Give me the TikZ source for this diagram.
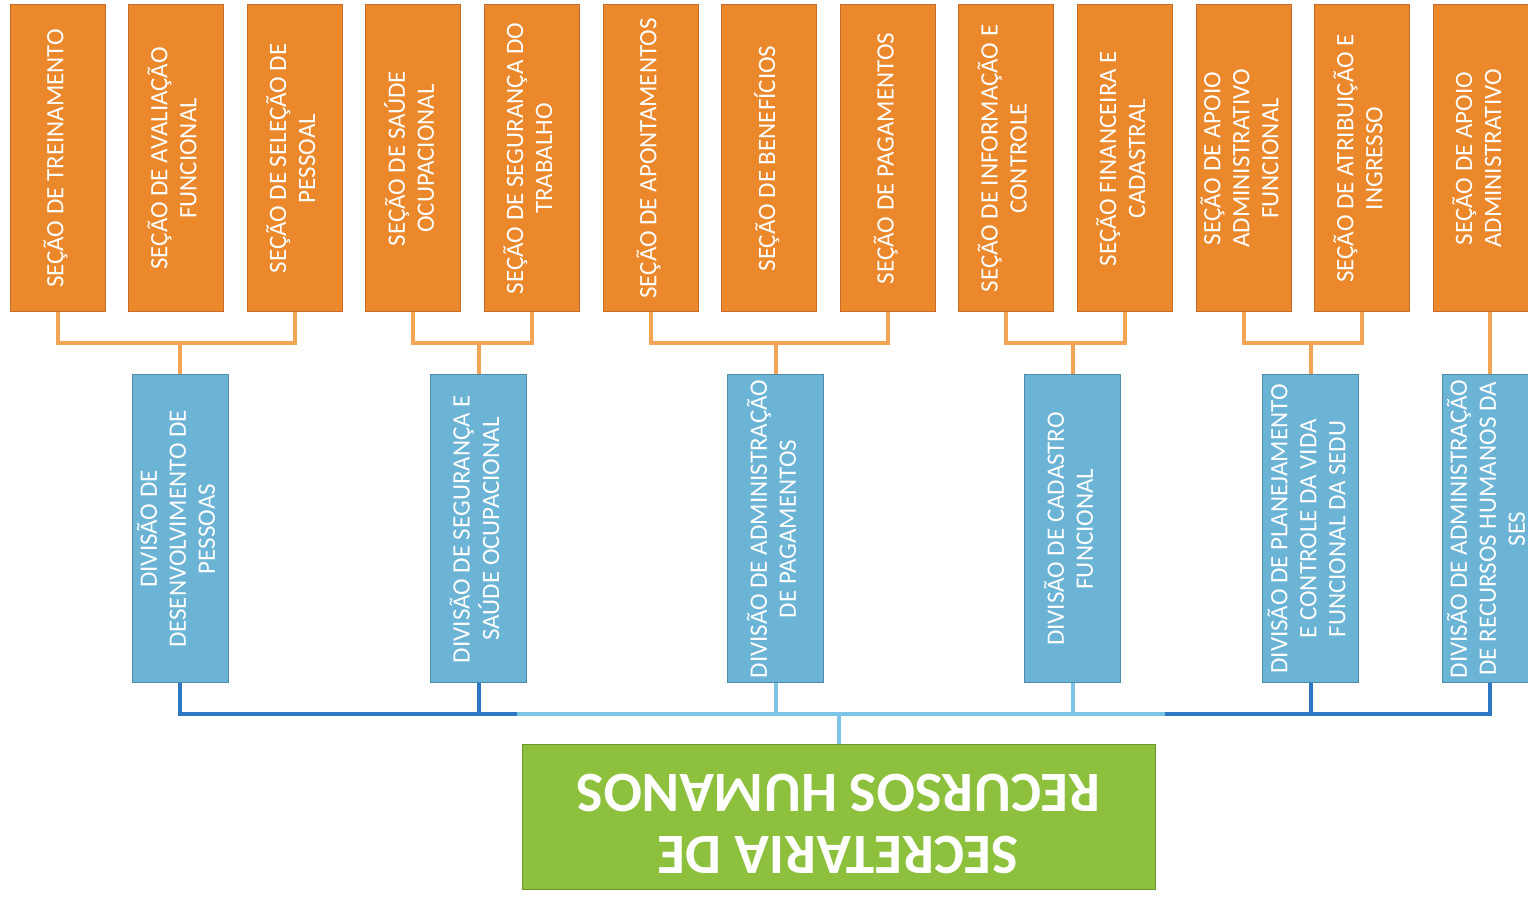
\documentclass[tikz,border=0pt]{standalone}
\usepackage{fontspec}
\setmainfont{Carlito}
\usepackage{graphicx}
\usetikzlibrary{calc}

\definecolor{secorange}{RGB}{236,136,44}
\definecolor{secedge}{RGB}{196,108,40}
\definecolor{divblue}{RGB}{108,180,214}
\definecolor{divedge}{RGB}{80,140,170}
\definecolor{secgreen}{RGB}{141,192,60}
\definecolor{secgreenedge}{RGB}{110,150,45}
\definecolor{oline}{RGB}{242,165,85}
\definecolor{darkbus}{RGB}{45,120,195}
\definecolor{lightbus}{RGB}{125,195,230}

\newcommand{\vlabel}[1]{\rotatebox{90}{\begin{tabular}{@{}c@{}}#1\end{tabular}}}

\tikzset{
  secao/.style={draw=secedge, line width=1pt, fill=secorange, text=white,
    minimum width=95pt, minimum height=307pt, inner sep=0pt,
    font=\fontsize{25}{29}\selectfont},
  divisao/.style={draw=divedge, line width=1pt, fill=divblue, text=white,
    minimum width=96pt, minimum height=308pt, inner sep=0pt,
    font=\fontsize{25}{29}\selectfont},
  secretaria/.style={draw=secgreenedge, line width=1pt, fill=secgreen, text=white,
    minimum width=633pt, minimum height=145pt, inner sep=0pt,
    font=\fontsize{57}{62}\selectfont\bfseries},
  orangelink/.style={draw=oline, line width=4pt},
  darklink/.style={draw=darkbus, line width=4pt},
  lightlink/.style={draw=lightbus, line width=4pt}
}

\begin{document}
\begin{tikzpicture}[x=1pt,y=1pt]
  \useasboundingbox (0,0) rectangle (1528,899);
  \clip (0,0) rectangle (1528,899);

  % secoes
  \foreach \i/\txt in {1/{SEÇÃO DE TREINAMENTO},
      2/{SEÇÃO DE AVALIAÇÃO\\FUNCIONAL},
      3/{SEÇÃO DE SELEÇÃO DE\\PESSOAL},
      4/{SEÇÃO DE SAÚDE\\OCUPACIONAL},
      5/{SEÇÃO DE SEGURANÇA DO\\TRABALHO},
      6/{SEÇÃO DE APONTAMENTOS},
      7/{SEÇÃO DE BENEFÍCIOS},
      8/{SEÇÃO DE PAGAMENTOS},
      9/{SEÇÃO DE INFORMAÇÃO E\\CONTROLE},
      10/{SEÇÃO FINANCEIRA E\\CADASTRAL},
      11/{SEÇÃO DE APOIO\\ADMINISTRATIVO\\FUNCIONAL},
      12/{SEÇÃO DE ATRIBUIÇÃO E\\INGRESSO},
      13/{SEÇÃO DE APOIO\\ADMINISTRATIVO}} {
    \node[secao] (s\i) at (57.5+118.6*\i-118.6, 740.5) {\vlabel{\txt}};
  }

  % divisoes
  \node[divisao] (d1) at (180,370) {\vlabel{DIVISÃO DE\\DESENVOLVIMENTO DE\\PESSOAS}};
  \node[divisao] (d2) at (478.5,370) {\vlabel{DIVISÃO DE SEGURANÇA E\\SAÚDE OCUPACIONAL}};
  \node[divisao] (d3) at (775.5,370) {\vlabel{DIVISÃO DE ADMINISTRAÇÃO\\DE PAGAMENTOS}};
  \node[divisao] (d4) at (1072.5,370) {\vlabel{DIVISÃO DE CADASTRO\\FUNCIONAL}};
  \node[divisao] (d5) at (1310.5,370) {\vlabel{DIVISÃO DE PLANEJAMENTO\\E CONTROLE DA VIDA\\FUNCIONAL DA SEDU}};
  \node[divisao] (d6) at (1490,370) {\vlabel{DIVISÃO DE ADMINISTRAÇÃO\\DE RECURSOS HUMANOS DA\\SES}};

  % secretaria
  \node[secretaria] (sec) at (838.5,81.5) {\rotatebox{180}{\begin{tabular}{@{}c@{}}SECRETARIA DE\\RECURSOS HUMANOS\end{tabular}}};

  % secoes -> divisoes
  \draw[orangelink] (s1.south) -- ++(0,-31) -| (s3.south);
  \draw[orangelink] (d1.north) -- ++(0,32);
  \draw[orangelink] (s4.south) -- ++(0,-31) -| (s5.south);
  \draw[orangelink] (d2.north) -- ++(0,32);
  \draw[orangelink] (s6.south) -- ++(0,-31) -| (s8.south);
  \draw[orangelink] (d3.north) -- ++(0,32);
  \draw[orangelink] (s9.south) -- ++(0,-31) -| (s10.south);
  \draw[orangelink] (d4.north) -- ++(0,32);
  \draw[orangelink] (s11.south) -- ++(0,-31) -| (s12.south);
  \draw[orangelink] (d5.north) -- ++(0,32);
  \draw[orangelink] (d6.north) -- (d6.north |- s13.south);

  % divisoes -> secretaria
  \coordinate (bus) at (838,185);
  \coordinate (busL) at (517,185);
  \coordinate (busR) at (1165,185);
  \draw[darklink] (d1.south) |- (busL);
  \draw[darklink] (d2.south) -- (d2.south |- busL);
  \draw[darklink] (d6.south) |- (busR);
  \draw[darklink] (d5.south) -- (d5.south |- busR);
  \draw[lightlink] (busL) -- (busR);
  \draw[lightlink] (d3.south) -- (d3.south |- bus);
  \draw[lightlink] (d4.south) -- (d4.south |- bus);
  \draw[lightlink] (sec.north) -- (sec.north |- bus);
\end{tikzpicture}
\end{document}
